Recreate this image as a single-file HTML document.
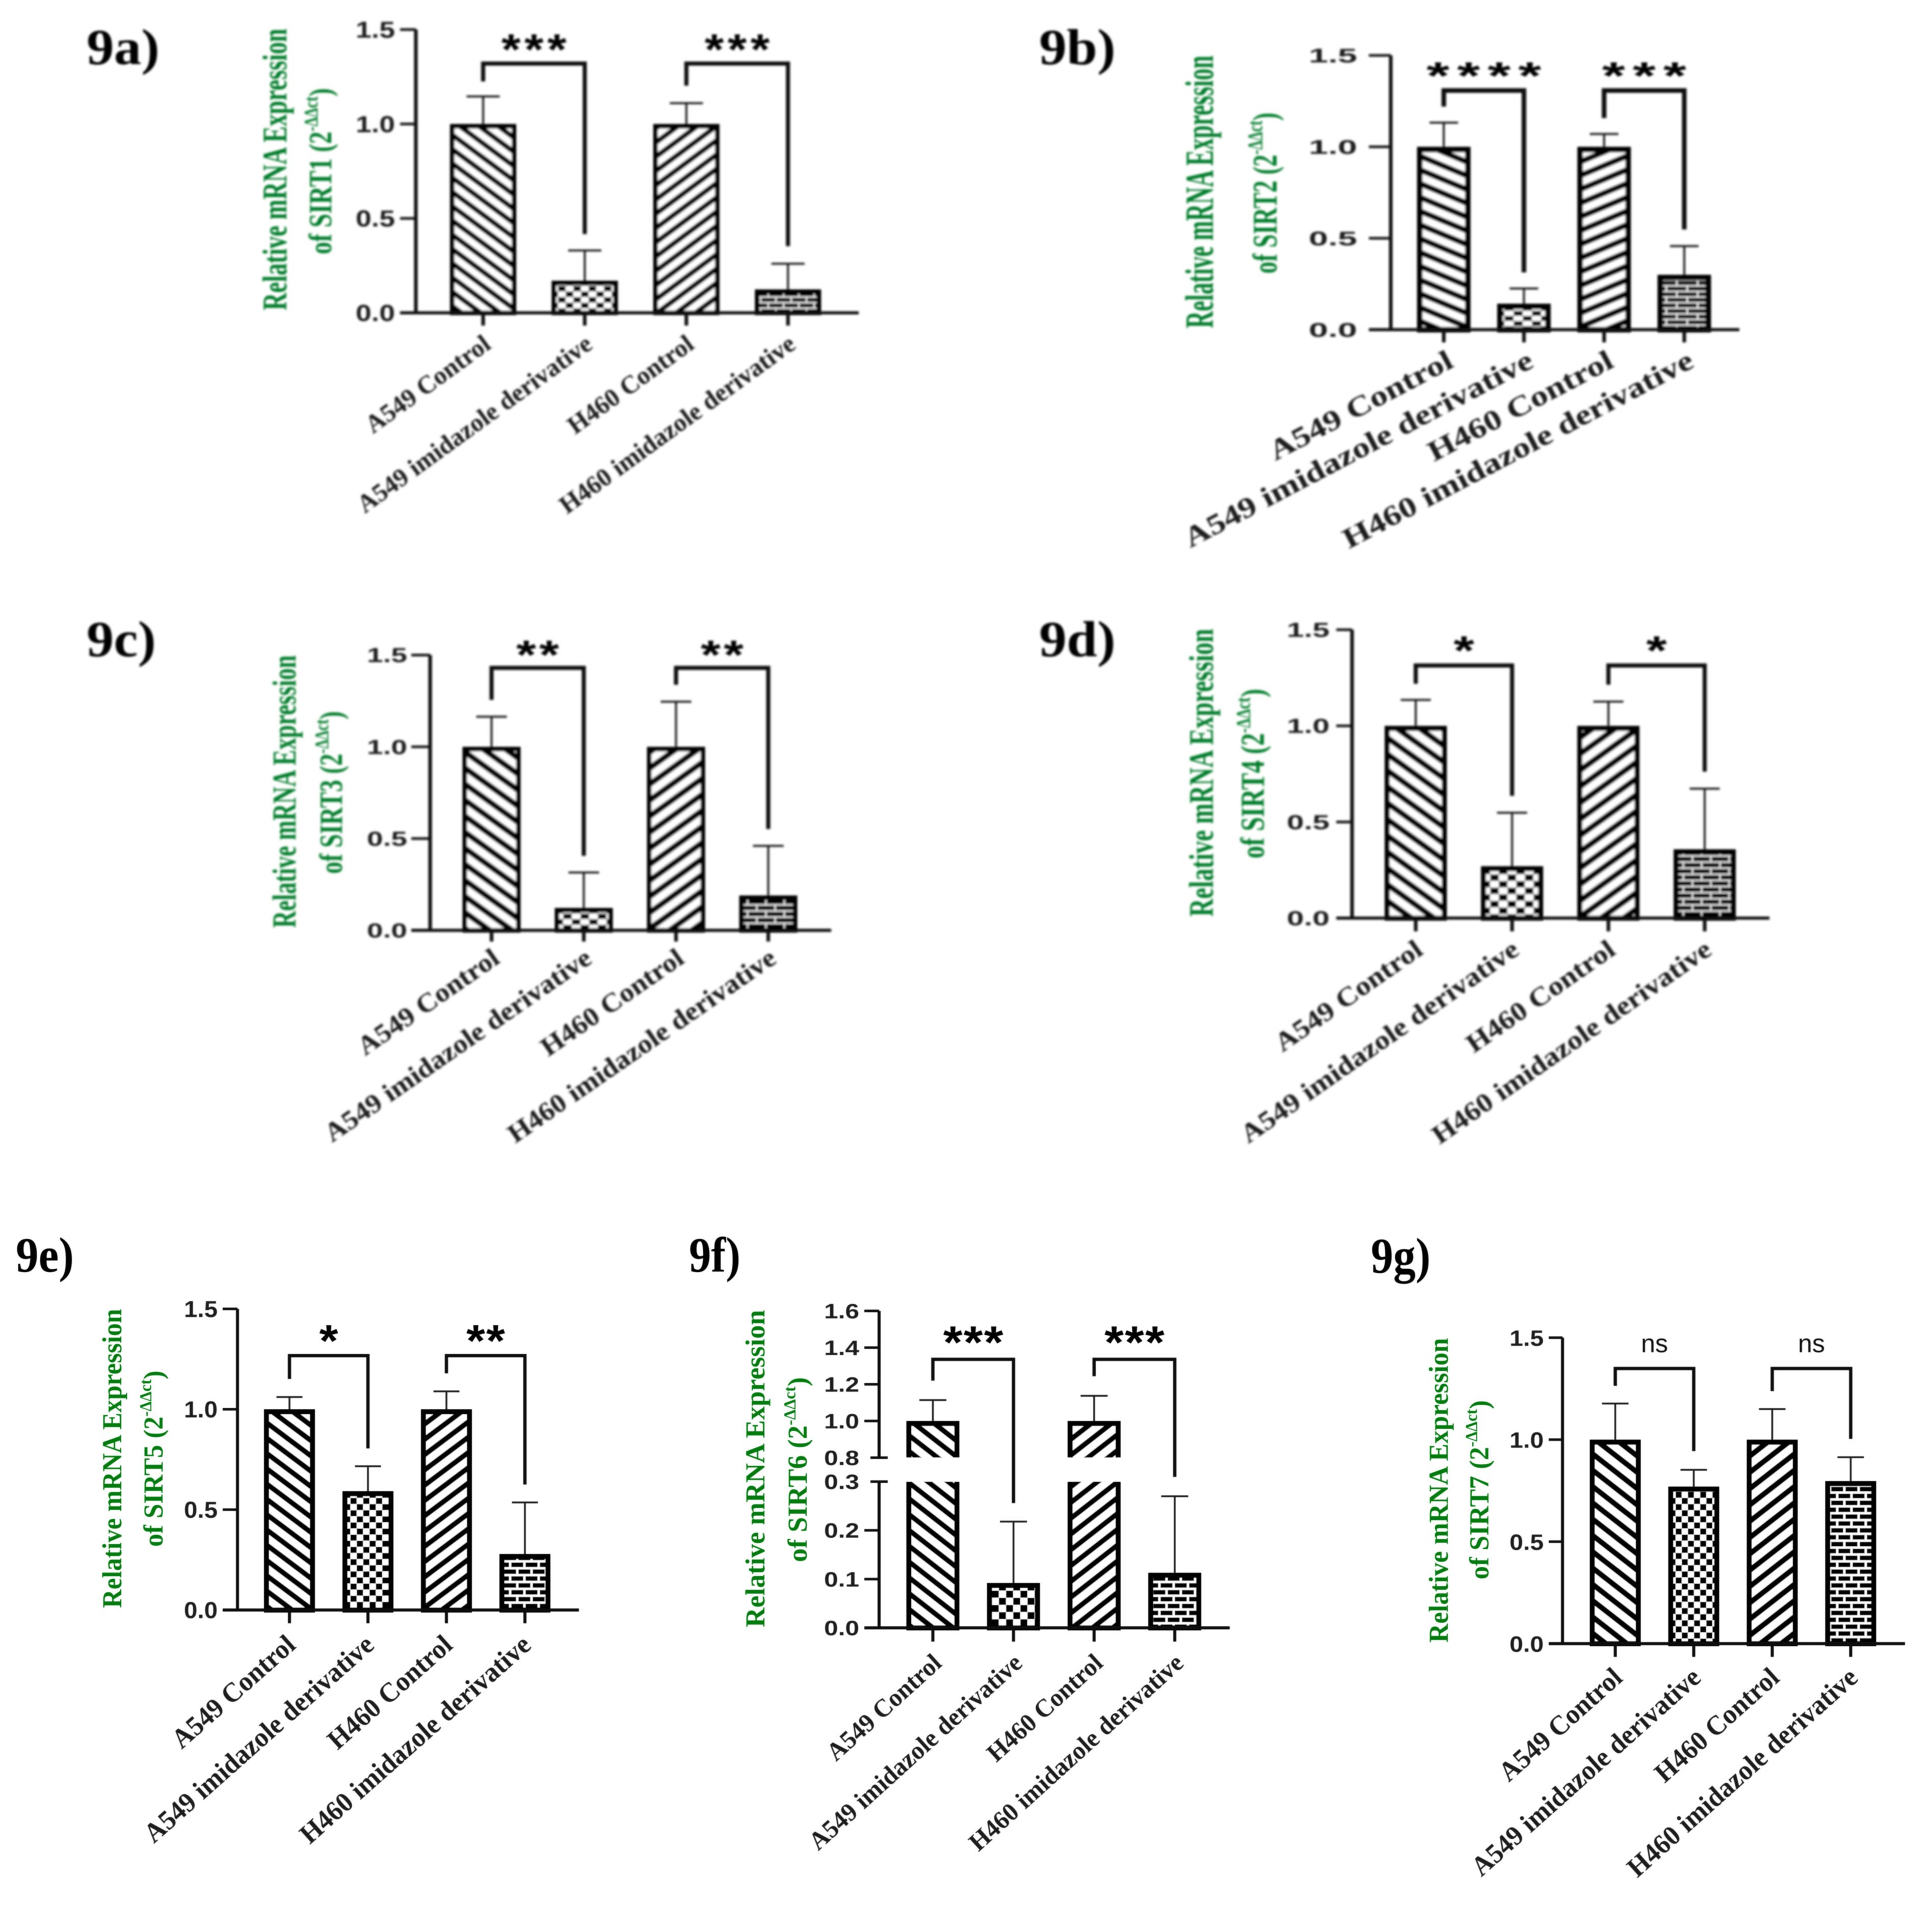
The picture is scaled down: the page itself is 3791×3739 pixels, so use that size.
<!DOCTYPE html>
<html lang="en">
<head>
<meta charset="utf-8">
<title>Figure 9: Relative mRNA expression of SIRT1-7</title>
<style>
  html, body { margin: 0; padding: 0; background: #fff; }
  svg { display: block; }
  text { font-family: "Liberation Serif", serif; }
</style>
</head>
<body>
<svg id="figure" xmlns="http://www.w3.org/2000/svg" width="3791" height="3739" viewBox="0 0 3791 3739">
  <rect x="0" y="0" width="3791" height="3739" fill="#ffffff"/>
  <defs id="defs"></defs>
</svg>
<script>
/* ---------- chart data ---------- */
const categories = ['A549 Control', 'A549 imidazole derivative', 'H460 Control', 'H460 imidazole derivative'];
const commonTicks = [0, 0.5, 1, 1.5];
const commonTickLabels = ['0.0', '0.5', '1.0', '1.5'];
const sirt6Ticks = [0, 0.1, 0.2, 0.3, 0.8, 1, 1.2, 1.4, 1.6];
const sirt6TickLabels = ['0.0', '0.1', '0.2', '0.3', '0.8', '1.0', '1.2', '1.4', '1.6'];

const sirt1Means = [1, 0.17, 1, 0.124];
const sirt1Errors = [0.146, 0.16, 0.11, 0.136];
const sirt1Sig = ['***', '***'];
const sirt1BracketTop = [1.32, 1.32];
const sirt1BracketLeft = [1.225, 1.203];
const sirt1BracketRight = [0.417, 0.353];

const sirt2Means = [1, 0.142, 1, 0.3];
const sirt2Errors = [0.132, 0.083, 0.07, 0.157];
const sirt2Sig = ['****', '***'];
const sirt2BracketTop = [1.308, 1.308];
const sirt2BracketLeft = [1.22, 1.157];
const sirt2BracketRight = [0.313, 0.548];

const sirt3Means = [1, 0.122, 1, 0.19];
const sirt3Errors = [0.164, 0.193, 0.246, 0.27];
const sirt3Sig = ['**', '**'];
const sirt3BracketTop = [1.43, 1.43];
const sirt3BracketLeft = [1.256, 1.338];
const sirt3BracketRight = [0.406, 0.552];

const sirt4Means = [1, 0.27, 1, 0.358];
const sirt4Errors = [0.135, 0.278, 0.126, 0.315];
const sirt4Sig = ['*', '*'];
const sirt4BracketTop = [1.314, 1.314];
const sirt4BracketLeft = [1.219, 1.214];
const sirt4BracketRight = [0.636, 0.762];

const sirt5Means = [1, 0.592, 1, 0.279];
const sirt5Errors = [0.061, 0.124, 0.089, 0.257];
const sirt5Sig = ['*', '**'];
const sirt5BracketTop = [1.267, 1.267];
const sirt5BracketLeft = [1.151, 1.179];
const sirt5BracketRight = [0.805, 0.625];

const sirt6Means = [1, 0.092, 1, 0.113];
const sirt6Errors = [0.114, 0.126, 0.137, 0.157];
const sirt6Sig = ['***', '***'];
const sirt6BracketTop = [1.336, 1.336];
const sirt6BracketLeft = [1.22, 1.244];
const sirt6BracketRight = [0.256, 0.398];

const sirt7Means = [1, 0.77, 1, 0.797];
const sirt7Errors = [0.177, 0.082, 0.15, 0.117];
const sirt7Sig = ['ns', 'ns'];
const sirt7BracketTop = [1.349, 1.349];
const sirt7BracketLeft = [1.264, 1.238];
const sirt7BracketRight = [0.944, 1.004];

/* ---------- panel layouts (pixels and styling only) ---------- */
const layoutA = { id:'a', tag:{x:170,y:126,w:143,fs:100}, axisX:816, tickL:785, tickDown:25, x0:948, step:199.4, barW:130, border:9, capW:65, xEnd:1685,
  domain:[0,1.5], range:[614,58], axisW:7, bracketW:8, errW:4, tickFs:45, tickW:77, tickR:775, tickH:32,
  titleFs:68, l1:{x:562,y:609,len:553}, l2:{x:650,y:499,len:326,fs:64}, starFs:85, starSx:1.14, starP:45, starOff:37.5, labelFs:50, labelSx:1.0, labelAngle:-36, labelDx:18, labelDy:68,
  hatch:{p:28,s:0.74,f:0.45}, check:{w:15,h:11}, brick:{w:30,h:22,t:2.5}, blur:2, green:'#007d2a' };
const layoutB = { id:'b', tag:{x:2039,y:126,w:150,fs:100}, axisX:2729, tickL:2686, tickDown:25, x0:2833, step:157.3, barW:105, border:11, capW:56, xEnd:3413,
  domain:[0,1.5], range:[647,108.7], axisW:7, bracketW:9, errW:4, tickFs:39, tickW:95, tickR:2663, tickH:28,
  titleFs:78, l1:{x:2380,y:644,len:535}, l2:{x:2505,y:537,len:316,fs:68}, starFs:75, starSx:1.55, starP:60, starOff:37.5, labelFs:56, labelSx:1.23, labelAngle:-27.8, labelDx:22, labelDy:72,
  hatch:{p:27,s:0.42,f:0.45}, check:{w:18,h:10}, brick:{w:41,h:22,t:2.5}, blur:2, green:'#007d2a' };
const layoutC = { id:'c', tag:{x:170,y:1288,w:136,fs:100}, axisX:844, tickL:807, tickDown:22, x0:964.5, step:181, barW:114, border:9, capW:60, xEnd:1631,
  domain:[0,1.5], range:[1826,1285.7], axisW:7, bracketW:8, errW:4, tickFs:40, tickW:79, tickR:799, tickH:28,
  titleFs:66, l1:{x:580,y:1821,len:535}, l2:{x:671,y:1715,len:319,fs:64}, starFs:80, starSx:1.25, starP:45, starOff:35, labelFs:52, labelSx:1.08, labelAngle:-34.7, labelDx:19, labelDy:62,
  hatch:{p:31.5,s:0.72,f:0.45}, check:{w:17,h:11}, brick:{w:36,h:24,t:2.5}, blur:2, green:'#007d2a' };
const layoutD = { id:'d', tag:{x:2039,y:1288,w:150,fs:100}, axisX:2653, tickL:2622, tickDown:26, x0:2778, step:189, barW:122, border:10, capW:59, xEnd:3472,
  domain:[0,1.5], range:[1802,1236], axisW:7, bracketW:8, errW:4, tickFs:40, tickW:84, tickR:2609, tickH:28,
  titleFs:68, l1:{x:2380,y:1799,len:565}, l2:{x:2480,y:1685,len:333,fs:66}, starFs:80, starSx:1.3, starP:45, starOff:39, labelFs:52, labelSx:1.13, labelAngle:-35, labelDx:17, labelDy:69,
  hatch:{p:32,s:0.72,f:0.45}, check:{w:17,h:13}, brick:{w:36,h:24,t:2.5}, blur:2, green:'#007d2a' };
const layoutE = { id:'e', tag:{x:31,y:2496,w:114,fs:98}, axisX:466, tickL:437, tickDown:26, x0:568, step:154, barW:100, border:10, capW:51, xEnd:1136,
  domain:[0,1.5], range:[3160,2569], axisW:6, bracketW:6.5, errW:3.5, tickFs:45, tickW:66, tickR:427, tickH:32,
  titleFs:54, l1:{x:238,y:3156,len:587}, l2:{x:319,y:3036,len:346,fs:54}, starFs:88, starSx:1.08, starP:39, starOff:40, labelFs:54, labelSx:0.97, labelAngle:-41.6, labelDx:15, labelDy:73,
  hatch:{p:30,s:0.75,f:0.43}, check:{w:12.5,h:12}, brick:{w:28,h:27,t:4.5}, blur:0.7, green:'#007a10' };
const layoutF = { id:'f', tag:{x:1352,y:2496,w:101,fs:98}, axisX:1725, tickL:1696, tickDown:27, x0:1830.5, step:158.2, barW:104, border:10, capW:53, xEnd:2413,
  domain:[0,0.3,0.8,1.6], range:[3195,2908,2861,2573], axisW:6, bracketW:6.5, errW:3.5, tickFs:41, tickW:69, tickR:1686, tickH:29,
  titleFs:54, l1:{x:1500,y:3194,len:623}, l2:{x:1583,y:3066,len:363,fs:54}, starFs:90, starSx:1.08, starP:40, starOff:44, labelFs:50, labelSx:0.98, labelAngle:-42.2, labelDx:20, labelDy:73,
  hatch:{p:31,s:0.78,f:0.42}, check:{w:14,h:14}, brick:{w:28,h:27,t:4.5}, blur:0.7, green:'#007a10', gap:[0.3,0.8] };
const layoutG = { id:'g', tag:{x:2690,y:2498,w:117,fs:98}, axisX:3066, tickL:3039, tickDown:26, x0:3169.5, step:154, barW:100, border:10, capW:52, xEnd:3738,
  domain:[0,1.5], range:[3226,2625.5], axisW:6, bracketW:6.5, errW:3.5, tickFs:44, tickW:67, tickR:3029, tickH:32,
  titleFs:54, l1:{x:2841,y:3224,len:598}, l2:{x:2920.5,y:3100,len:352,fs:54}, starFs:50, starSx:1, starP:53, starOff:45, labelFs:54, labelSx:0.97, labelAngle:-41.8, labelDx:17, labelDy:71,
  hatch:{p:32,s:0.78,f:0.43}, check:{w:12,h:12}, brick:{w:28,h:27,t:4.5}, blur:0.7, green:'#007a10' };

/* ---------- helpers ---------- */
const SVG_NS = 'http://www.w3.org/2000/svg';
const root = document.getElementById('figure');
const defs = document.getElementById('defs');

function mk(parent, tag, attrs, txt) {
  const el = document.createElementNS(SVG_NS, tag);
  for (const k in attrs) el.setAttribute(k, attrs[k]);
  if (txt !== undefined) el.textContent = txt;
  parent.appendChild(el);
  return el;
}
function fit(el, tx, ty, angle, target) {
  const n = el.getComputedTextLength();
  el.setAttribute('transform', 'translate(' + tx + ' ' + ty + ') rotate(' + angle + ') scale(' + (target / n) + ' 1)');
}
function makeYScale(L) {
  return function (v) {
    const d = L.domain, r = L.range;
    let i = 0;
    while (i < d.length - 2 && v > d[i + 1]) i++;
    return r[i] + (v - d[i]) / (d[i + 1] - d[i]) * (r[i + 1] - r[i]);
  };
}
function makeXScale(L) {
  return function (i) { return L.x0 + i * L.step; };
}
function makePatterns(L) {
  const h = L.hatch, W = h.p / h.s, t = h.f * h.p * Math.cos(Math.atan(h.s));
  ['Down', 'Up'].forEach(function (dir) {
    const attrs = { id: 'hatch' + dir + L.id, patternUnits: 'userSpaceOnUse', width: W, height: h.p };
    if (dir === 'Up') attrs.patternTransform = 'scale(-1 1)';
    const p = mk(defs, 'pattern', attrs);
    mk(p, 'rect', { x: 0, y: 0, width: W, height: h.p, fill: '#fff' });
    [-W, 0, W].forEach(function (off) {
      mk(p, 'line', { x1: off - W, y1: -h.p, x2: off + 2 * W, y2: 2 * h.p, stroke: '#000', 'stroke-width': t });
    });
  });
  const c = mk(defs, 'pattern', { id: 'check' + L.id, patternUnits: 'userSpaceOnUse', width: 2 * L.check.w, height: 2 * L.check.h });
  mk(c, 'rect', { x: 0, y: 0, width: 2 * L.check.w, height: 2 * L.check.h, fill: '#fff' });
  mk(c, 'rect', { x: 0, y: 0, width: L.check.w, height: L.check.h, fill: '#000' });
  mk(c, 'rect', { x: L.check.w, y: L.check.h, width: L.check.w, height: L.check.h, fill: '#000' });
  const b = L.brick;
  const br = mk(defs, 'pattern', { id: 'brick' + L.id, patternUnits: 'userSpaceOnUse', width: b.w, height: b.h });
  mk(br, 'rect', { x: 0, y: 0, width: b.w, height: b.h, fill: '#000' });
  mk(br, 'line', { x1: 0, y1: 0, x2: b.w, y2: 0, stroke: '#fff', 'stroke-width': b.t });
  mk(br, 'line', { x1: 0, y1: b.h, x2: b.w, y2: b.h, stroke: '#fff', 'stroke-width': b.t });
  mk(br, 'line', { x1: 0, y1: b.h / 2, x2: b.w, y2: b.h / 2, stroke: '#fff', 'stroke-width': b.t });
  mk(br, 'line', { x1: b.w / 4, y1: 0, x2: b.w / 4, y2: b.h / 2, stroke: '#fff', 'stroke-width': b.t });
  mk(br, 'line', { x1: 3 * b.w / 4, y1: b.h / 2, x2: 3 * b.w / 4, y2: b.h, stroke: '#fff', 'stroke-width': b.t });
  const f = mk(defs, 'filter', { id: 'soft' + L.id, x: '-5%', y: '-5%', width: '110%', height: '110%' });
  mk(f, 'feGaussianBlur', { stdDeviation: L.blur });
}

/* ---------- panel renderer ---------- */
function drawPanel(L, gene, means, errors, sig, bTop, bLeft, bRight, ticks, tickLabels) {
  makePatterns(L);
  const y = makeYScale(L), x = makeXScale(L), y0 = y(0);
  const fills = ['hatchDown' + L.id, 'check' + L.id, 'hatchUp' + L.id, 'brick' + L.id];
  const panel = mk(root, 'g', { filter: 'url(#soft' + L.id + ')' });
  
  

  const tag = mk(panel, 'text', { 'font-size': L.tag.fs, 'font-weight': 'bold', fill: '#000' }, '9' + L.id + ')');
  
  
  fit(tag, L.tag.x, L.tag.y, 0, L.tag.w);

  /* y-axis title */
  const t1 = mk(panel, 'text', { 'font-size': L.titleFs, 'font-weight': 'bold', fill: L.green }, 'Relative mRNA Expression');
  
  
  fit(t1, L.l1.x, L.l1.y, -90, L.l1.len);
  const t2 = mk(panel, 'text', { 'font-size': L.l2.fs, 'font-weight': 'bold', fill: L.green }, 'of ' + gene + ' (2');
  
  
  mk(t2, 'tspan', { dy: -0.42 * L.l2.fs, 'font-size': 0.6 * L.l2.fs }, '-\u0394\u0394ct');
  mk(t2, 'tspan', { dy: 0.42 * L.l2.fs }, ')');
  fit(t2, L.l2.x, L.l2.y, -90, L.l2.len);

  /* error bars (behind the bars) */
  means.forEach(function (m, i) {
    const top = y(m + errors[i]);
    const e = mk(panel, 'path', { d: 'M' + x(i) + ' ' + y(m) + 'V' + top + 'M' + (x(i) - L.capW / 2) + ' ' + top + 'H' + (x(i) + L.capW / 2), stroke: '#1a1a1a', 'stroke-width': L.errW, fill: 'none' });
    
    
  });

  /* bars */
  means.forEach(function (m, i) {
    const top = y(m);
    const b = mk(panel, 'rect', { x: x(i) - L.barW / 2 + L.border / 2, y: top + L.border / 2, width: L.barW - L.border, height: y0 - top - L.border / 2, fill: 'url(#' + fills[i] + ')', stroke: '#000', 'stroke-width': L.border });
    
    
  });

  /* axis break on a broken axis */
  if (L.gap) {
    const gy1 = y(L.gap[1]), gy0 = y(L.gap[0]);
    means.forEach(function (m, i) {
      if (m > L.gap[1]) {
        const c = mk(panel, 'rect', { x: x(i) - L.barW / 2 - 3, y: gy1, width: L.barW + 6, height: gy0 - gy1, fill: '#fff' });
        
        
      }
    });
  }

  /* axes */
  const topY = y(L.domain[L.domain.length - 1]);
  const axisPath = L.gap
    ? 'M' + L.axisX + ' ' + topY + 'V' + y(L.gap[1]) + 'M' + L.axisX + ' ' + y(L.gap[0]) + 'V' + y0
    : 'M' + L.axisX + ' ' + topY + 'V' + y0;
  const ya = mk(panel, 'path', { d: axisPath, stroke: '#111', 'stroke-width': L.axisW, fill: 'none' });
  
  
  const xa = mk(panel, 'line', { x1: L.tickL, y1: y0, x2: L.xEnd, y2: y0, stroke: '#111', 'stroke-width': 6 });
  
  

  /* y ticks */
  ticks.forEach(function (v, i) {
    const py = y(v);
    const isBreak = L.gap && (v === L.gap[0] || v === L.gap[1]);
    const tk = mk(panel, 'line', { x1: isBreak ? L.tickL + 12 : L.tickL, y1: py, x2: isBreak ? L.axisX + 17 : L.axisX, y2: py, stroke: '#111', 'stroke-width': 5 });
    
    
    const lb = mk(panel, 'text', { 'font-size': L.tickFs, 'font-weight': 'bold', fill: '#1c1c1c', 'text-anchor': 'end', style: 'font-family:"Liberation Sans",sans-serif' }, tickLabels[i]);
    
    
    fit(lb, L.tickR, py + L.tickH / 2, 0, L.tickW);
  });

  /* x ticks and labels */
  categories.forEach(function (c, i) {
    const tk = mk(panel, 'line', { x1: x(i), y1: y0, x2: x(i), y2: y0 + L.tickDown, stroke: '#111', 'stroke-width': L.axisW });
    
    
    const lb = mk(panel, 'text', { 'font-size': L.labelFs, 'font-weight': 'bold', fill: '#1c1c1c', 'text-anchor': 'end', transform: 'translate(' + (x(i) + L.labelDx) + ' ' + (y0 + L.labelDy) + ') rotate(' + L.labelAngle + ') scale(' + L.labelSx + ' 1)' }, c);
    
    
  });

  /* significance brackets */
  sig.forEach(function (s, k) {
    const xl = x(2 * k), xr = x(2 * k + 1), ty = y(bTop[k]), yc = ty - L.starOff, cx = (xl + xr) / 2;
    const br = mk(panel, 'path', { d: 'M' + xl + ' ' + y(bLeft[k]) + 'V' + ty + 'H' + xr + 'V' + y(bRight[k]), stroke: '#111', 'stroke-width': L.bracketW, fill: 'none' });
    
    
    if (s === 'ns') {
      const ns = mk(panel, 'text', { 'font-size': L.starFs, fill: '#111', 'text-anchor': 'middle', style: 'font-family:"Liberation Sans",sans-serif' }, s);
      
      
      fit(ns, cx, yc + 13, 0, L.starP);
    } else {
      const xs = Array.from(s).map(function (_, j) {
        return (j - (s.length - 1) / 2) * L.starP / L.starSx - 0.1945 * L.starFs;
      }).join(' ');
      const st = mk(panel, 'text', { x: xs, 'font-size': L.starFs, 'font-weight': 'bold', fill: '#000', style: 'font-family:"Liberation Sans",sans-serif', transform: 'translate(' + cx + ' ' + (yc + 0.46 * L.starFs) + ') scale(' + L.starSx + ' 1)' }, s);
      
      
    }
  });
}

drawPanel(layoutA, 'SIRT1', sirt1Means, sirt1Errors, sirt1Sig, sirt1BracketTop, sirt1BracketLeft, sirt1BracketRight, commonTicks, commonTickLabels);
drawPanel(layoutB, 'SIRT2', sirt2Means, sirt2Errors, sirt2Sig, sirt2BracketTop, sirt2BracketLeft, sirt2BracketRight, commonTicks, commonTickLabels);
drawPanel(layoutC, 'SIRT3', sirt3Means, sirt3Errors, sirt3Sig, sirt3BracketTop, sirt3BracketLeft, sirt3BracketRight, commonTicks, commonTickLabels);
drawPanel(layoutD, 'SIRT4', sirt4Means, sirt4Errors, sirt4Sig, sirt4BracketTop, sirt4BracketLeft, sirt4BracketRight, commonTicks, commonTickLabels);
drawPanel(layoutE, 'SIRT5', sirt5Means, sirt5Errors, sirt5Sig, sirt5BracketTop, sirt5BracketLeft, sirt5BracketRight, commonTicks, commonTickLabels);
drawPanel(layoutF, 'SIRT6', sirt6Means, sirt6Errors, sirt6Sig, sirt6BracketTop, sirt6BracketLeft, sirt6BracketRight, sirt6Ticks, sirt6TickLabels);
drawPanel(layoutG, 'SIRT7', sirt7Means, sirt7Errors, sirt7Sig, sirt7BracketTop, sirt7BracketLeft, sirt7BracketRight, commonTicks, commonTickLabels);
</script>
</body>
</html>
